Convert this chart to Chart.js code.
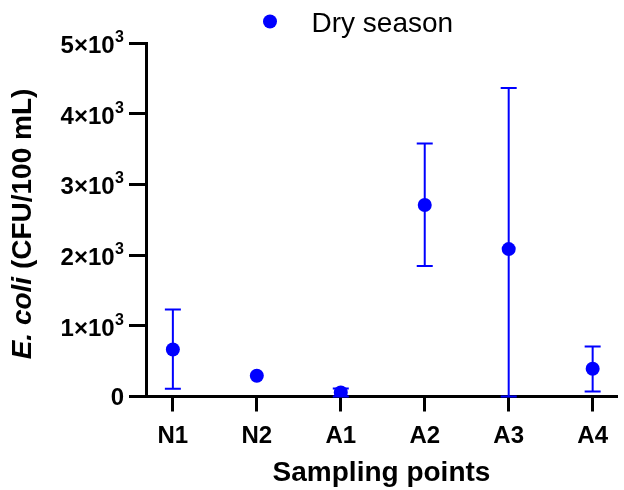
<!DOCTYPE html>
<html>
<head>
<meta charset="utf-8">
<script src="https://cdn.jsdelivr.net/npm/chart.js@4.4.1/dist/chart.umd.min.js"></script>
<style>
  html, body { margin: 0; padding: 0; background: #fff; }
  #wrap { width: 624px; height: 490px; }
</style>
</head>
<body>
<div id="wrap"><canvas id="ecoliChart" width="624" height="490"></canvas></div>
<script>
// Données
const categories = ['N1', 'N2', 'A1', 'A2', 'A3', 'A4'];
const means = [665, 293, 57, 2708, 2085, 392];
const upper = [1231, 293, 113, 3580, 4363, 707];
const lower = [109, 293, 0, 1845, 0, 71];
const yTicks = [0, 1000, 2000, 3000, 4000, 5000];
const seriesLabel = 'Dry season';

const FONT = "'Liberation Sans', Arial, sans-serif";
const BLUE = '#0000FF';
Chart.defaults.font.family = FONT;
Chart.defaults.color = '#000';

// Barres d'erreur (dessinées sous les points)
const errorBars = {
    id: 'errorBars',
    beforeDatasetsDraw(chart) {
        const ctx = chart.ctx;
        const xs = chart.scales.x, ys = chart.scales.y;
        ctx.save();
        ctx.strokeStyle = BLUE;
        ctx.lineWidth = 2;
        categories.forEach((c, i) => {
            if (upper[i] === lower[i]) return;
            const x = xs.getPixelForValue(i);
            const yt = ys.getPixelForValue(upper[i]);
            const yb = ys.getPixelForValue(lower[i]);
            ctx.beginPath();
            ctx.moveTo(x, yt); ctx.lineTo(x, yb);
            ctx.moveTo(x - 8, yt); ctx.lineTo(x + 8, yt);
            ctx.moveTo(x - 8, yb); ctx.lineTo(x + 8, yb);
            ctx.stroke();
        });
        ctx.restore();
    }
};

// Étiquettes Y avec exposant, titre Y (E. coli en italique) et légende
const extras = {
    id: 'extras',
    afterDraw(chart) {
        const ctx = chart.ctx;
        const ys = chart.scales.y;
        ctx.save();
        ctx.fillStyle = '#000';
        ctx.textBaseline = 'alphabetic';
        ctx.textAlign = 'right';
        const right = 124;
        ys.ticks.forEach(t => {
            const y = ys.getPixelForValue(t.value);
            if (t.value === 0) {
                ctx.font = 'bold 24px ' + FONT;
                ctx.fillText('0', right, y + 8.6);
                return;
            }
            ctx.font = 'bold 16px ' + FONT;
            const sw = ctx.measureText('3').width;
            ctx.fillText('3', right, y - 1.2);
            ctx.font = 'bold 24px ' + FONT;
            ctx.fillText((t.value / 1000) + '×10', right - sw - 0.5, y + 10);
        });

        // légende
        ctx.textAlign = 'left';
        ctx.fillStyle = BLUE;
        ctx.beginPath();
        ctx.arc(270, 21.5, 7, 0, Math.PI * 2);
        ctx.fill();
        ctx.fillStyle = '#000';
        ctx.font = '28px ' + FONT;
        ctx.fillText(chart.data.datasets[0].label, 311.5, 31.5);

        // titre Y
        const part1 = 'E. coli';
        const part2 = ' (CFU/100 mL)';
        ctx.translate(31, 224);
        ctx.rotate(-Math.PI / 2);
        ctx.font = 'italic bold 28px ' + FONT;
        const w1 = ctx.measureText(part1).width;
        ctx.font = 'bold 28px ' + FONT;
        const w2 = ctx.measureText(part2).width;
        const x0 = -(w1 + w2) / 2;
        ctx.font = 'italic bold 28px ' + FONT;
        ctx.fillText(part1, x0, 0);
        ctx.font = 'bold 28px ' + FONT;
        ctx.fillText(part2, x0 + w1, 0);
        ctx.restore();
    }
};

const ecoliChart = new Chart(document.getElementById('ecoliChart').getContext('2d'), {
    type: 'scatter',
    data: {
        datasets: [{
            label: seriesLabel,
            data: means.map((v, i) => ({ x: i, y: v })),
            backgroundColor: BLUE,
            borderColor: BLUE,
            pointRadius: 7,
            pointHoverRadius: 7,
            borderWidth: 0
        }]
    },
    options: {
        responsive: false,
        animation: false,
        layout: { padding: { top: 43, left: 0, right: 0, bottom: 0 } },
        plugins: {
            legend: { display: false },
            tooltip: { enabled: false }
        },
        scales: {
            x: {
                type: 'linear',
                min: -0.32,
                max: 5.29,
                afterBuildTicks: (scale) => { scale.ticks = categories.map((c, i) => ({ value: i })); },
                afterFit: (scale) => { scale.height = 93.5; },
                ticks: {
                    callback: (v) => categories[v],
                    font: { size: 24, weight: 'bold' },
                    padding: 10,
                    maxRotation: 0,
                    autoSkip: false
                },
                grid: { drawOnChartArea: false, drawTicks: true, tickLength: 15, tickWidth: 3, tickColor: '#000' },
                border: { display: true, width: 3, color: '#000' },
                title: {
                    display: true,
                    text: 'Sampling points',
                    font: { size: 28, weight: 'bold' },
                    padding: 0
                }
            },
            y: {
                min: 0,
                max: 5000,
                afterBuildTicks: (scale) => { scale.ticks = yTicks.map(v => ({ value: v })); },
                afterFit: (scale) => { scale.width = 146; },
                ticks: { display: false },
                grid: { drawOnChartArea: false, drawTicks: true, tickLength: 17, tickWidth: 3, tickColor: '#000' },
                border: { display: true, width: 3, color: '#000' }
            }
        }
    },
    plugins: [errorBars, extras]
});
</script>
</body>
</html>
